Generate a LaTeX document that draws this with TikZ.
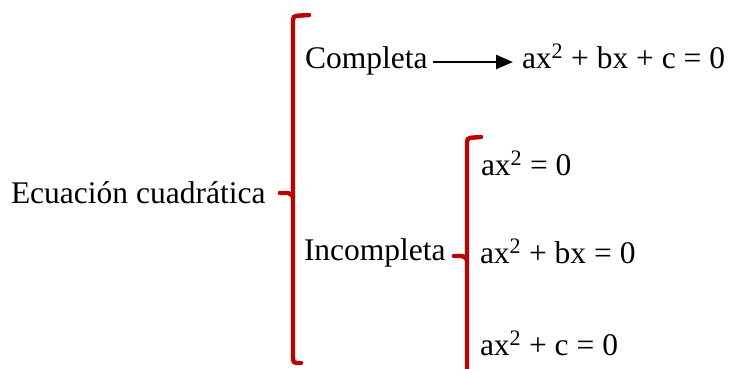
\documentclass[tikz,border=0pt]{standalone}
\usepackage{fontspec}
\setmainfont{Liberation Serif}
\usetikzlibrary{arrows.meta}
\definecolor{bracered}{HTML}{C00000}
\begin{document}
\begin{tikzpicture}[x=1pt,y=-1pt,
  lbl/.style={anchor=base west,inner sep=0pt,outer sep=0pt,font=\fontsize{31.5}{36}\selectfont},
  bracket/.style={draw=bracered,line width=4.4pt,rounded corners=3.5pt,line cap=round},
  arr/.style={line width=2.6pt,-{Triangle[length=17pt,width=14pt]},shorten <=6pt,shorten >=9pt}]
\useasboundingbox (0,0) rectangle (730,368);
% texts
\node[lbl] (ec) at (11,203) {Ecuación cuadrática};
\node[lbl] (comp) at (305,68) {Completa};
\node[lbl] (eqc) at (522,68) {ax\textsuperscript{2} + bx + c = 0};
\node[lbl] (inc) at (304,260) {Incompleta};
\node[lbl] (e1) at (481,175) {ax\textsuperscript{2} = 0};
\node[lbl] (e2) at (480,263) {ax\textsuperscript{2} + bx = 0};
\node[lbl] (e3) at (480,355) {ax\textsuperscript{2} + c = 0};
% arrow
\draw[arr] (comp.east |- 0,62) -- (eqc.west |- 0,62);
% big bracket
\draw[bracket] (309,15) -- (293,16) -- (293,363) -- (301,363);
\draw[bracket] (280,193) -- (291,193) -- (293,197);
% small bracket
\draw[bracket] (481,137) -- (467,138) -- (467,372);
\draw[bracket] (454,256) -- (465,256) -- (467,260);
\end{tikzpicture}
\end{document}
